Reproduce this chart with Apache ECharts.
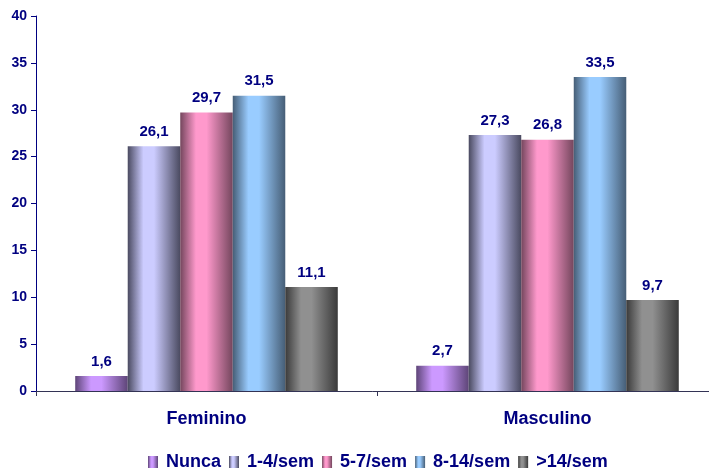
<!DOCTYPE html>
<html><head><meta charset="utf-8">
<script src="https://cdn.jsdelivr.net/npm/echarts@6/dist/echarts.min.js"></script>
<style>html,body{margin:0;padding:0;background:#fff}#c{width:709px;height:468px}</style>
</head><body><div id="c"></div>
<script>
const categories = ['Feminino', 'Masculino'];
const seriesNames = ['Nunca', '1-4/sem', '5-7/sem', '8-14/sem', '>14/sem'];
const nunca = [1.6, 2.7];
const s14 = [26.1, 27.3];
const s57 = [29.7, 26.8];
const s814 = [31.5, 33.5];
const s14plus = [11.1, 9.7];
const yTicks = [0, 5, 10, 15, 20, 25, 30, 35, 40];

const values = [nunca, s14, s57, s814, s14plus];
const light = ['#CC99FF', '#CCCCFF', '#FF99CC', '#99CCFF', '#909090'];
const dark = ['#5e4578', '#4a4a60', '#74465d', '#465e76', '#3a3a3a'];
const navy = '#000080';
const font = 'Liberation Sans, Arial, sans-serif';

function grad(i) {
  return new echarts.graphic.LinearGradient(0, 0, 1, 0, [
    {offset: 0, color: dark[i]},
    {offset: 0.3, color: light[i]},
    {offset: 0.5, color: light[i]},
    {offset: 1, color: dark[i]}
  ]);
}

const chart = echarts.init(document.getElementById('c'), null, {renderer: 'canvas'});
chart.setOption({
  animation: false,
  backgroundColor: '#fff',
  grid: {left: 36, top: 16, height: 375, width: 682, containLabel: false, outerBoundsMode: 'none'},
  legend: {
    data: seriesNames,
    left: 143, top: 448,
    itemWidth: 10, itemHeight: 12, itemGap: 8,
    icon: 'rect',
    textStyle: {color: navy, fontWeight: 'bold', fontSize: 18, fontFamily: font, padding: [0, 0, 0, 3]}
  },
  xAxis: {
    type: 'category',
    data: categories,
    axisLine: {lineStyle: {color: '#333355', width: 1}},
    axisTick: {show: true, inside: false, length: 5, lineStyle: {color: '#333355'}},
    axisLabel: {color: navy, fontWeight: 'bold', fontSize: 18, fontFamily: font, margin: 19}
  },
  yAxis: {
    type: 'value',
    min: yTicks[0], max: yTicks[yTicks.length - 1], interval: 5,
    splitLine: {show: false},
    axisLine: {show: true, lineStyle: {color: navy, width: 1}},
    axisTick: {show: true, length: 5, lineStyle: {color: navy}},
    axisLabel: {color: navy, fontWeight: 'bold', fontSize: 14, fontFamily: font, margin: 9}
  },
  series: seriesNames.map((n, i) => ({
    name: n,
    type: 'bar',
    data: values[i],
    barGap: '0%',
    barCategoryGap: '23%',
    itemStyle: {color: grad(i)},
    label: {
      show: true, position: 'top', distance: 7,
      color: navy, fontWeight: 'bold', fontSize: 15, fontFamily: font,
      formatter: p => String(p.value).replace('.', ',')
    }
  }))
});
</script></body></html>
